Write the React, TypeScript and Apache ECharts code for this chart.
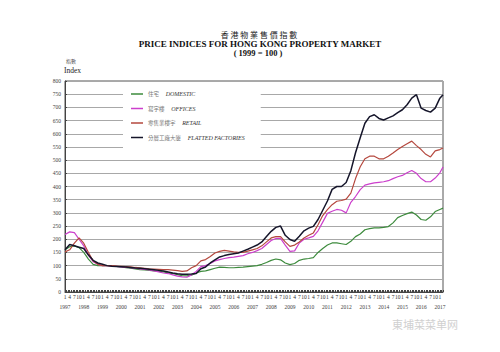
import React, { useEffect, useRef } from "react";
import * as echarts from "echarts";

// Monthly categories Jan 1997 .. Mar 2017
const firstYear = 1997;
const lastYear = 2017;
const lastMonthOfLastYear = 3;
const monthCats: string[] = [];
for (let y = firstYear; y <= lastYear; y++) {
  for (let m = 1; m <= 12; m++) {
    if (y === lastYear && m > lastMonthOfLastYear) break;
    monthCats.push(`${y}-${m}`);
  }
}
const labelMonths = ["1", "4", "7", "10"];

// Sample points: Jan/Apr/Jul/Oct of each year + latest month (Mar 2017)
const pointMonths: number[] = [];
for (let i = 0; i < monthCats.length; i += 3) pointMonths.push(i);
pointMonths.push(monthCats.length - 1);

const yTicks = [0, 50, 100, 150, 200, 250, 300, 350, 400, 450, 500, 550, 600, 650, 700, 750, 800];

const seriesNames = [
  "住宅 DOMESTIC",
  "寫字樓 OFFICES",
  "零售業樓宇 RETAIL",
  "分層工廠大廈 FLATTED FACTORIES",
];

// quarterly values (Jan, Apr, Jul, Oct) 1997..2016, then Jan 2017, Mar 2017
const domestic = [
  160, 172, 175, 168,
  150, 125, 105, 100,
  100, 100, 99, 97,
  95, 92, 90, 88,
  85, 84, 82, 80,
  78, 76, 72, 70,
  66, 62, 61, 64,
  72, 78, 80, 85,
  90, 94, 93, 92,
  92, 93, 94, 96,
  98, 100, 105, 112,
  120, 125, 122, 110,
  104, 108, 120, 125,
  127, 130, 150, 165,
  178, 186, 186, 183,
  180, 192, 210, 220,
  236, 240, 243, 243,
  245, 248, 262, 282,
  290, 297, 303, 292,
  275, 272, 285, 305,
  313, 318,
];

const offices = [
  218, 228, 225, 200,
  175, 140, 115, 105,
  100, 100, 98, 97,
  95, 93, 92, 90,
  88, 86, 84, 80,
  76, 72, 70, 65,
  60, 57, 56, 65,
  78, 96, 100, 108,
  118, 123, 127, 130,
  132, 135, 138, 145,
  150, 157, 165, 180,
  195, 203, 203, 178,
  154, 156, 186, 200,
  205, 211, 232, 265,
  298, 306, 313, 310,
  300, 340, 362, 388,
  405, 410, 414, 416,
  418, 422, 430, 437,
  442, 452, 461, 450,
  430, 418, 418, 432,
  452, 474,
];

const retail = [
  152, 160, 185, 205,
  185, 150, 118, 105,
  100, 100, 100, 98,
  97, 96, 95, 93,
  92, 90, 88, 87,
  86, 85, 85, 83,
  81, 78, 80, 92,
  100, 118, 123, 135,
  148, 154, 158, 155,
  152, 150, 150, 155,
  160, 165, 175, 190,
  205, 210, 210, 190,
  173, 178, 190, 205,
  215, 224, 255, 290,
  312, 331, 344, 347,
  352, 375, 430, 475,
  505, 515, 515, 505,
  505, 515, 527, 540,
  552, 562, 572, 555,
  540, 522, 512, 535,
  540, 546,
];

const factories = [
  160, 180, 175, 170,
  165, 140, 120, 110,
  105, 100, 98, 97,
  96, 95, 93, 91,
  90, 88, 86, 84,
  82, 80, 76, 72,
  69, 67, 67, 68,
  70, 88, 95, 110,
  122, 133, 138, 142,
  145, 148, 155, 162,
  170, 178, 190, 210,
  230, 245, 250, 215,
  199, 192, 211, 232,
  242, 249, 275, 310,
  345, 389, 400, 400,
  415, 460, 528, 585,
  640, 665, 672, 658,
  652, 660, 668, 680,
  691, 710, 735, 748,
  697, 688, 682, 697,
  735, 748,
];

const seriesValues = [domestic, offices, retail, factories];
const seriesColors = ["#3d8b3d", "#cc3fcc", "#b5483e", "#15152a"];

export default function App() {
  const ref = useRef<HTMLDivElement>(null);
  useEffect(() => {
    if (!ref.current) return;
    const chart = echarts.init(ref.current, null, { renderer: "svg" });
    const serif = "Liberation Serif";
    const cjk = "Noto Sans CJK TC";
    chart.setOption({
      animation: false,
      backgroundColor: "#ffffff",
      title: [
        { text: "香 港 物 業 售 價 指 數", left: 259, top: 30, textAlign: "center", padding: 0,
          textStyle: { fontSize: 8, fontFamily: cjk, fontWeight: "normal", color: "#222" } },
        { text: "PRICE INDICES FOR HONG KONG PROPERTY MARKET", left: 260, top: 39, textAlign: "center", padding: 0,
          textStyle: { fontSize: 9, fontFamily: serif, fontWeight: "bold", color: "#111" } },
        { text: "( 1999 = 100 )", left: 258, top: 48, textAlign: "center", padding: 0,
          textStyle: { fontSize: 8.5, fontFamily: serif, fontWeight: "bold", color: "#111" } },
        { text: "指數", left: 66, top: 58, padding: 0,
          textStyle: { fontSize: 5, fontFamily: cjk, fontWeight: "normal", color: "#555" } },
        { text: "Index", left: 64, top: 66, padding: 0,
          textStyle: { fontSize: 7.5, fontFamily: serif, fontWeight: "normal", color: "#222" } },
      ],
      legend: {
        orient: "vertical",
        left: 123,
        top: 83,
        padding: [5, 16, 6, 8],
        backgroundColor: "#ffffff",
        icon: "rect",
        itemWidth: 12,
        itemHeight: 1.5,
        itemGap: 2.5,
        data: seriesNames,
        formatter: (name: string) => {
          const idx = name.indexOf(" ");
          return `{c|${name.slice(0, idx)}}  {e|${name.slice(idx + 1)}}`;
        },
        textStyle: {
          lineHeight: 8,
          padding: [0, 0, 0, 0],
          rich: {
            c: { fontFamily: cjk, fontSize: 5.5, color: "#777", lineHeight: 8 },
            e: { fontFamily: serif, fontStyle: "italic", fontSize: 6, color: "#333", lineHeight: 8 },
          },
        },
      },
      grid: {
        left: 65,
        top: 81,
        right: 57,
        bottom: 60,
        show: true,
        borderColor: "#555",
        borderWidth: 1,
      },
      xAxis: [
        {
          type: "category",
          data: monthCats,
          boundaryGap: false,
          position: "bottom",
          axisLine: { lineStyle: { color: "#444", width: 1 } },
          axisTick: { interval: 0, inside: true, length: 2, lineStyle: { color: "#444" } },
          axisLabel: {
            interval: 2,
            showMinLabel: true,
            showMaxLabel: true,
            hideOverlap: false,
            formatter: (v: string) => {
              const m = v.split("-")[1];
              return labelMonths.includes(m) ? m : "";
            },
            fontSize: 5.5,
            margin: 2,
            color: "#333",
            fontFamily: serif,
          },
          splitLine: { show: false },
        },
        {
          type: "category",
          data: monthCats,
          boundaryGap: false,
          position: "bottom",
          axisLine: { show: false },
          axisTick: { show: false },
          axisLabel: {
            interval: 11,
            showMinLabel: true,
            hideOverlap: false,
            formatter: (v: string) => {
              const [y, m] = v.split("-");
              return m === "1" ? y : "";
            },
            fontSize: 5.5,
            margin: 12,
            color: "#444",
            fontFamily: serif,
          },
          splitLine: { show: false },
        },
      ],
      yAxis: {
        type: "value",
        min: yTicks[0],
        max: yTicks[yTicks.length - 1],
        interval: 50,
        axisLine: { show: true, lineStyle: { color: "#444" } },
        axisTick: { show: true, inside: true, length: 2, lineStyle: { color: "#444" } },
        axisLabel: { fontSize: 5.5, color: "#444", fontFamily: serif, margin: 4 },
        splitLine: { show: true, lineStyle: { color: "#a8a8a8", width: 1 } },
      },
      series: seriesNames.map((name, si) => ({
        name,
        type: "line",
        xAxisIndex: 0,
        showSymbol: false,
        symbol: "none",
        lineStyle: { color: seriesColors[si], width: si === 3 ? 1.5 : 1.2 },
        itemStyle: { color: seriesColors[si] },
        data: pointMonths.map((m, i) => [m, seriesValues[si][i]]),
      })),
      graphic: [
        {
          type: "text",
          left: 392,
          top: 318,
          style: { text: "東埔菜菜单网", fontSize: 11, fontFamily: cjk, fill: "#d0d0d0" },
        },
      ],
    });
    return () => chart.dispose();
  }, []);
  return (
    <div
      ref={ref}
      style={{ position: "absolute", left: 0, top: 0, width: 500, height: 352 }}
    />
  );
}
